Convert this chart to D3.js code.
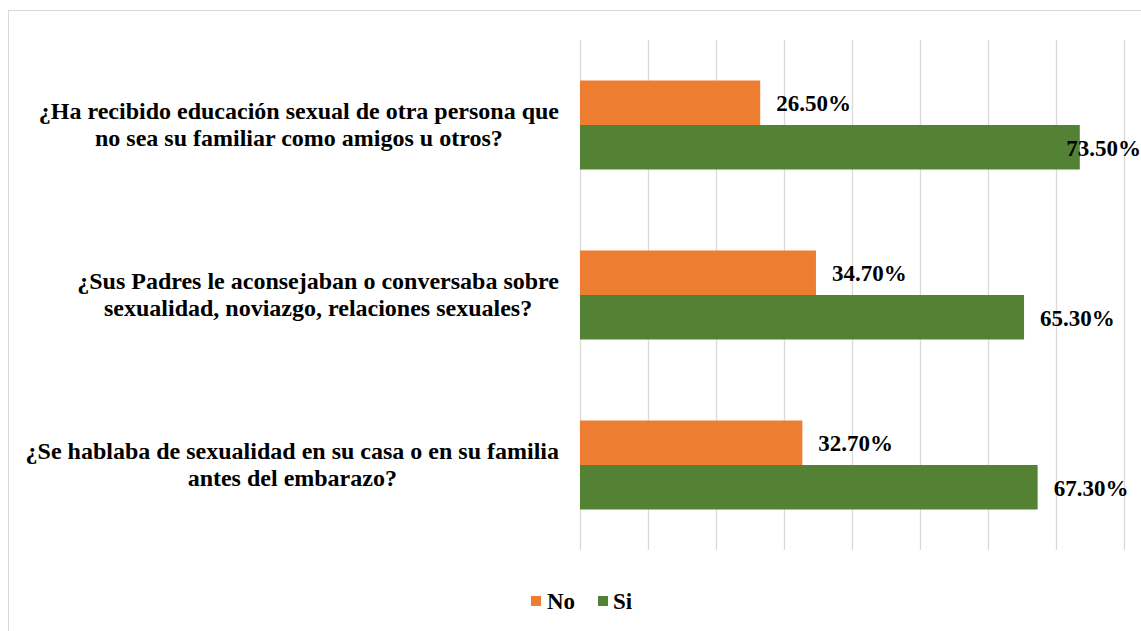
<!DOCTYPE html>
<html>
<head>
<meta charset="utf-8">
<script src="https://cdn.jsdelivr.net/npm/d3@7/dist/d3.min.js"></script>
<style>
  html, body { margin: 0; padding: 0; background: #fff; }
  svg { display: block; }
  text { font-family: "Liberation Serif", "Times New Roman", serif; font-weight: bold; fill: #000; }
</style>
</head>
<body>
<svg id="chart" width="1141" height="631"></svg>
<script>
// Survey questions (top to bottom), each split into its printed lines
const questions = [
  ["¿Ha recibido educación sexual de otra persona que", "no sea su familiar como amigos u otros?"],
  ["¿Sus Padres le aconsejaban o conversaba sobre", "sexualidad, noviazgo, relaciones sexuales?"],
  ["¿Se hablaba de sexualidad en su casa o en su familia", "antes del embarazo?"]
];
const seriesNames = ["No", "Si"];
const noValues = [26.5, 34.7, 32.7];
const siValues = [73.5, 65.3, 67.3];
const xTicks = [0, 10, 20, 30, 40, 50, 60, 70, 80];
const colors = { No: "#ED7D31", Si: "#548235" };

const W = 1141, H = 631;
const svg = d3.select("#chart");

// outer chart frame (right and bottom edges fall outside the view)
svg.append("rect")
  .attr("x", 8.5).attr("y", 10.5)
  .attr("width", W + 20).attr("height", H + 20)
  .attr("fill", "#fff").attr("stroke", "#d9d9d9").attr("stroke-width", 1);

const plot = { left: 580, right: 1124, top: 40, bottom: 550 };

const x = d3.scaleLinear().domain([0, 80]).range([plot.left, plot.right]);
const gap = 0.4765;
const y0 = d3.scaleBand()
  .domain(questions.map((d, i) => i))
  .range([plot.top, plot.bottom])
  .paddingInner(gap).paddingOuter(gap / 2);
const y1 = d3.scaleBand().domain(seriesNames).range([0, y0.bandwidth()]);

// vertical gridlines
svg.append("g").selectAll("line")
  .data(xTicks).join("line")
  .attr("x1", d => Math.round(x(d)) + 0.5).attr("x2", d => Math.round(x(d)) + 0.5)
  .attr("y1", plot.top).attr("y2", plot.bottom)
  .attr("stroke", "#d9d9d9").attr("stroke-width", 1.3);

const rows = questions.map((q, i) => ({ i, q, No: noValues[i], Si: siValues[i] }));

const groups = svg.append("g").selectAll("g")
  .data(rows).join("g")
  .attr("transform", d => `translate(0,${y0(d.i)})`);

groups.selectAll("rect")
  .data(d => seriesNames.map(s => ({ s, v: d[s] })))
  .join("rect")
  .attr("x", x(0))
  .attr("y", d => y1(d.s))
  .attr("width", d => x(d.v) - x(0))
  .attr("height", y1.bandwidth())
  .attr("fill", d => colors[d.s]);

// value labels to the right of each bar, kept inside the frame
groups.selectAll("text.val")
  .data(d => seriesNames.map(s => ({ s, v: d[s] })))
  .join("text")
  .attr("class", "val")
  .attr("font-size", 23)
  .attr("y", d => y1(d.s) + y1.bandwidth() / 2 + 8.5)
  .text(d => d.v.toFixed(2) + "%")
  .each(function (d) {
    const t = d3.select(this);
    const w = this.getComputedTextLength();
    let tx = x(d.v) + 16;
    if (tx + w > W) tx = W - w;
    t.attr("x", tx);
  });

// category labels: block right-aligned to the axis, lines centred within it
const labelRight = 559;
rows.forEach(r => {
  const yc = y0(r.i) + y0.bandwidth() / 2;
  const t = svg.append("text").attr("font-size", 24).attr("text-anchor", "middle");
  const spans = r.q.map((line, k) =>
    t.append("tspan").attr("y", yc - 6 + k * 27).text(line));
  const maxW = d3.max(spans, s => s.node().getComputedTextLength());
  spans.forEach(s => s.attr("x", labelRight - maxW / 2));
});

// legend
const legend = svg.append("g");
const legendItems = [
  { s: "No", bx: 531, tx: 547 },
  { s: "Si", bx: 598, tx: 613 }
];
legendItems.forEach(it => {
  legend.append("rect").attr("x", it.bx).attr("y", 596).attr("width", 10).attr("height", 10)
    .attr("fill", colors[it.s]);
  legend.append("text").attr("x", it.tx).attr("y", 609).attr("font-size", 23).text(it.s);
});
</script>
</body>
</html>
